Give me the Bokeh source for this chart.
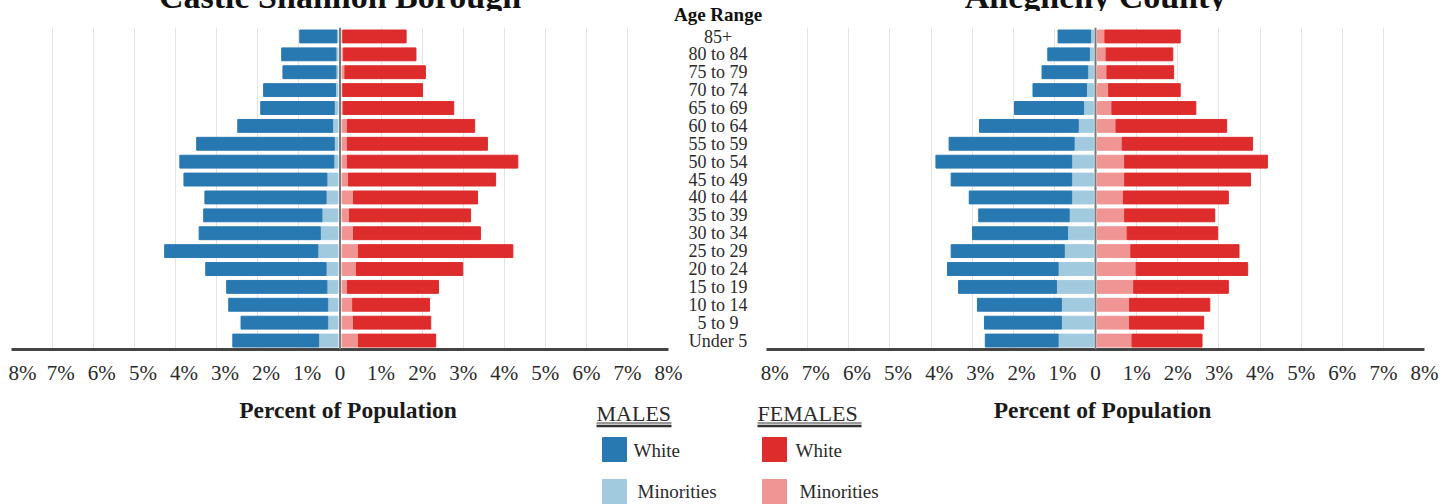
from bokeh.plotting import figure
from bokeh.models import Range1d, FixedTicker, CustomJSTickFormatter, Span, ColumnDataSource
from bokeh.layouts import row, column
from bokeh.embed import file_html
from bokeh.resources import INLINE
from bokeh.core.properties import value

# ---------------- data (percent of population), top row first ----------------
ages = ["85+", "80 to 84", "75 to 79", "70 to 74", "65 to 69", "60 to 64", "55 to 59",
        "50 to 54", "45 to 49", "40 to 44", "35 to 39", "30 to 34", "25 to 29",
        "20 to 24", "15 to 19", "10 to 14", "5 to 9", "Under 5"]

cs_male_white = [0.90, 1.32, 1.29, 1.75, 1.79, 2.31, 3.35, 3.75, 3.48, 2.95, 2.88, 2.95, 3.73, 2.93, 2.44, 2.41, 2.11, 2.09]
cs_male_min = [0.03, 0.05, 0.05, 0.06, 0.09, 0.13, 0.09, 0.10, 0.27, 0.29, 0.39, 0.43, 0.49, 0.29, 0.27, 0.25, 0.25, 0.47]
cs_female_white = [1.54, 1.76, 1.96, 1.94, 2.69, 3.10, 3.41, 4.15, 3.58, 3.02, 2.95, 3.09, 3.76, 2.59, 2.22, 1.87, 1.88, 1.88]
cs_female_min = [0.02, 0.04, 0.07, 0.02, 0.03, 0.13, 0.13, 0.13, 0.16, 0.28, 0.18, 0.28, 0.40, 0.35, 0.13, 0.26, 0.28, 0.40]

al_male_white = [0.79, 1.01, 1.11, 1.30, 1.68, 2.40, 3.04, 3.30, 2.93, 2.49, 2.20, 2.31, 2.75, 2.69, 2.38, 2.04, 1.87, 1.77]
al_male_min = [0.07, 0.10, 0.14, 0.17, 0.24, 0.37, 0.47, 0.53, 0.53, 0.53, 0.59, 0.63, 0.71, 0.86, 0.90, 0.78, 0.78, 0.86]
al_female_white = [1.83, 1.62, 1.62, 1.74, 2.04, 2.69, 3.17, 3.47, 3.06, 2.55, 2.19, 2.20, 2.63, 2.71, 2.30, 1.95, 1.80, 1.70]
al_female_min = [0.18, 0.21, 0.23, 0.27, 0.35, 0.45, 0.60, 0.66, 0.66, 0.63, 0.66, 0.72, 0.81, 0.94, 0.88, 0.78, 0.78, 0.84]

titles = ["Castle Shannon Borough", "Allegheny County"]
tick_values = list(range(-8, 9))
age_header = "Age Range"
x_label = "Percent of Population"
legend_heads = ["MALES", "FEMALES"]
legend_items = ["White", "Minorities"]

# ---------------- styles ----------------
C_MW, C_MM, C_FW, C_FM = "#2878b2", "#a2cadf", "#de2b2b", "#f19494"
SERIF = "Liberation Serif"
TXT = "#2a2a2a"

# page-pixel layout constants
TOP = -22          # top of layout (partly above viewport, as in reference)
CHART_TOP = 11
FRAME_TOP = 27
FRAME_BOT = 349
CHART_BOT = 389
PAGE_BOT = 504
MID_W = 98
L_BL, L_BR = 3, 16          # left chart frame: page x 11..668
R_BL, R_BR = 8, 20          # right chart frame: page x 766..1424
LEFT_W = 3 + 657 + L_BR
RIGHT_W = R_BL + 658 + R_BR
GAP = 0.05
BAR_H = 0.72
LABEL_SHIFT = 0.2

n = len(ages)
ys = [n - 1 - i for i in range(n)]


def base_fig(**kw):
    p = figure(toolbar_location=None, output_backend="svg", outline_line_color=None,
               background_fill_color=None, border_fill_color=None, **kw)
    return p


def hide_grids(p):
    for g in p.grid:
        g.visible = False


def chart(mw, mm, fw, fm, width, bl, br):
    src = ColumnDataSource(dict(
        y=ys,
        m_in=[-GAP] * n,
        m_mid=[-(GAP + a) for a in mm],
        m_out=[-(GAP + a + b) for a, b in zip(mm, mw)],
        f_in=[GAP] * n,
        f_mid=[GAP + a for a in fm],
        f_out=[GAP + a + b for a, b in zip(fm, fw)],
    ))
    p = base_fig(width=width, height=CHART_BOT - CHART_TOP,
                 x_range=Range1d(-8, 8), y_range=Range1d(-0.5, n - 0.5),
                 y_axis_location=None,
                 min_border_left=bl, min_border_right=br,
                 min_border_top=FRAME_TOP - CHART_TOP,
                 min_border_bottom=CHART_BOT - FRAME_BOT)
    p.background_fill_color = "white"
    for g in p.ygrid:
        g.visible = False
    p.xgrid.ticker = FixedTicker(ticks=tick_values)
    p.xgrid.grid_line_color = "#e4e4e4"
    p.xgrid.grid_line_width = 1
    p.hbar(y="y", left="m_mid", right="m_in", height=BAR_H, color=C_MM, source=src)
    p.hbar(y="y", left="m_out", right="m_mid", height=BAR_H, color=C_MW, source=src)
    p.hbar(y="y", left="f_in", right="f_mid", height=BAR_H, color=C_FM, source=src)
    p.hbar(y="y", left="f_mid", right="f_out", height=BAR_H, color=C_FW, source=src)
    p.add_layout(Span(location=0, dimension="height", line_color="#7a7a7a", line_width=2))
    ax = p.xaxis[0]
    ax.ticker = FixedTicker(ticks=[t + LABEL_SHIFT if t < 0 else t for t in tick_values])
    ax.formatter = CustomJSTickFormatter(
        code="const v = Math.round(Math.abs(tick)); return v === 0 ? '0' : v + '%';")
    ax.major_tick_line_color = None
    ax.minor_tick_line_color = None
    ax.axis_line_color = "#444444"
    ax.axis_line_width = 3
    ax.major_label_text_font = SERIF
    ax.major_label_text_font_size = "21px"
    ax.major_label_text_color = TXT
    ax.major_label_standoff = 5
    return p


def title_fig(txt, width, bl, br):
    p = base_fig(width=width, height=CHART_TOP - TOP,
                 x_range=Range1d(-8, 8), y_range=Range1d(CHART_TOP, TOP),
                 x_axis_location=None, y_axis_location=None,
                 min_border_left=bl, min_border_right=br, min_border_top=0, min_border_bottom=0)
    hide_grids(p)
    p.text(x=[0], y=[-4.5], text=[txt], text_align="center", text_baseline="middle",
           text_font=value(SERIF), text_font_style="bold", text_font_size="34px", text_color="#111111")
    return p


left_title = title_fig(titles[0], LEFT_W, L_BL, L_BR)
right_title = title_fig(titles[1], RIGHT_W, R_BL, R_BR)
left_chart = chart(cs_male_white, cs_male_min, cs_female_white, cs_female_min, LEFT_W, L_BL, L_BR)
right_chart = chart(al_male_white, al_male_min, al_female_white, al_female_min, RIGHT_W, R_BL, R_BR)

# middle column with age labels (overlaps the charts' outer borders, transparent)
s = (FRAME_BOT - FRAME_TOP) / n
mid = base_fig(width=MID_W, height=CHART_BOT - TOP,
               x_range=Range1d(0, MID_W),
               y_range=Range1d(n - 0.5 - (CHART_BOT - FRAME_TOP) / s, n - 0.5 + (FRAME_TOP - TOP) / s),
               x_axis_location=None, y_axis_location=None,
               min_border=0, margin=(0, -R_BL, 0, -L_BR))
hide_grids(mid)
mid.text(x=[MID_W / 2 + 0.5] * n, y=ys, text=ages, text_align="center", text_baseline="middle",
         text_font=value(SERIF), text_font_size="18px", text_color=TXT)
mid.text(x=[MID_W / 2 + 0.5], y=[n - 0.5 + (FRAME_TOP - 14) / s], text=[age_header],
         text_align="center", text_baseline="middle",
         text_font=value(SERIF), text_font_style="bold", text_font_size="19px", text_color="#111111")

# bottom area: axis titles and legend (page coordinates)
TOTAL_W = LEFT_W + MID_W - L_BR - R_BL + RIGHT_W
bot = base_fig(width=TOTAL_W, height=PAGE_BOT - CHART_BOT,
               x_range=Range1d(8, 8 + TOTAL_W), y_range=Range1d(PAGE_BOT, CHART_BOT),
               x_axis_location=None, y_axis_location=None, min_border=0)
hide_grids(bot)
bot.text(x=[347.5, 1102], y=[409, 409], text=[x_label, x_label], text_align="center",
         text_baseline="middle", text_font=value(SERIF), text_font_style="bold",
         text_font_size="23.5px", text_color="#1a1a1a")
bot.text(x=[596, 757], y=[412.5, 412.5], text=legend_heads, text_align="left", text_baseline="middle",
         text_font=value(SERIF), text_font_size="22px", text_color=TXT)
bot.segment(x0=[596, 757], y0=[422.5, 422.5], x1=[671, 861], y1=[422.5, 422.5], line_color="#333333", line_width=1)
bot.segment(x0=[596, 757], y0=[425.5, 425.5], x1=[671, 861], y1=[425.5, 425.5], line_color="#333333", line_width=2.5)
bot.quad(left=[602, 602, 762, 762], right=[626, 626, 786, 786],
         top=[437, 479, 437, 479], bottom=[461, 504, 461, 504],
         color=[C_MW, C_MM, C_FW, C_FM])
bot.text(x=[633, 637, 795, 799], y=[450, 491, 450, 491],
         text=[legend_items[0], legend_items[1], legend_items[0], legend_items[1]],
         text_align="left", text_baseline="middle", text_font=value(SERIF),
         text_font_size="19px", text_color=TXT)

layout = column(
    row(column(left_title, left_chart), mid, column(right_title, right_chart)),
    bot,
    margin=(-22, 0, 0, 8),
)

open("out.html", "w").write(file_html(layout, INLINE))
